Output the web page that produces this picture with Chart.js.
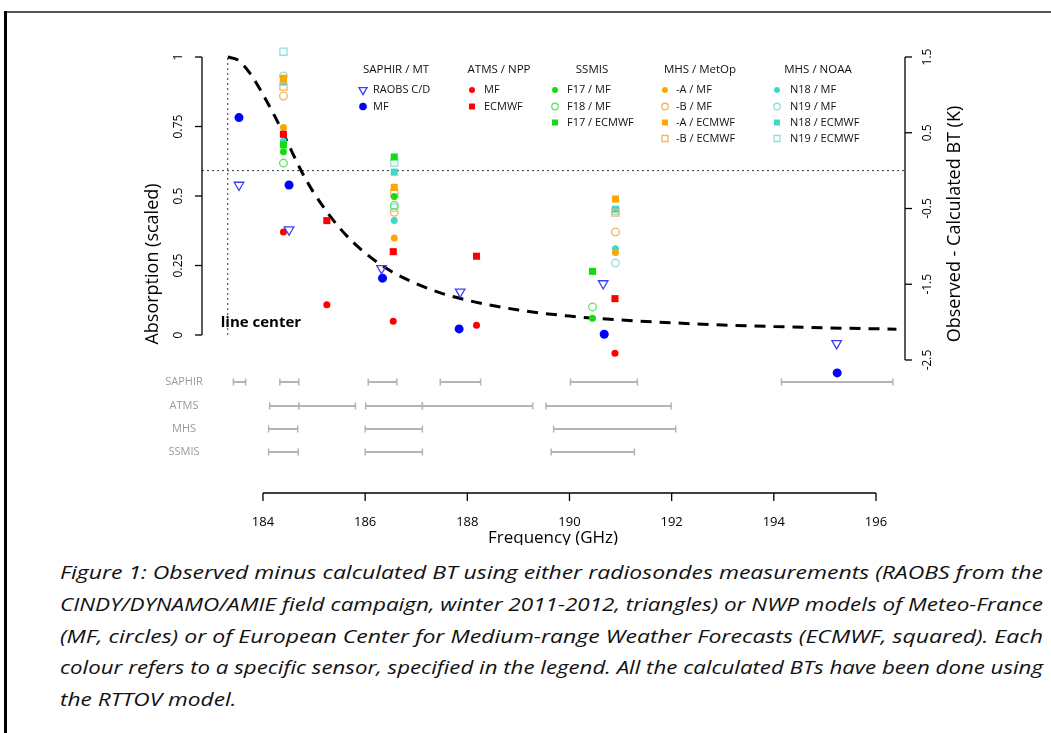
<!DOCTYPE html>
<html>
<head>
<meta charset="utf-8">
<script src="https://cdn.jsdelivr.net/npm/chart.js@4.4.1/dist/chart.umd.min.js"></script>
<style>
  html, body { margin: 0; padding: 0; background: #fff; }
  body { width: 1051px; height: 733px; position: relative; overflow: hidden; }
  #frameL { position: absolute; left: 4px; top: 11px; width: 3px; height: 722px; background: #000; }
  #frameT { position: absolute; left: 4px; top: 11px; width: 1047px; height: 2px; background: #555; }
  #chart { position: absolute; left: 0; top: 0; }
  #caption { position: absolute; left: 60px; top: 557px; font-family: 'Open Sans', sans-serif; font-style: italic; font-size: 19px; color: #111; }
  #caption div { white-space: nowrap; height: 31.75px; line-height: 31.75px; }
  #caption span { display: inline-block; transform-origin: 0 50%; }
</style>
</head>
<body>
<div id="frameT"></div>
<div id="frameL"></div>
<canvas id="chart" width="1051" height="545"></canvas>
<div id="caption">
  <div><span class="j">Figure 1: Observed minus calculated BT using either radiosondes measurements (RAOBS from the</span></div>
  <div><span class="j">CINDY/DYNAMO/AMIE field campaign, winter 2011-2012, triangles) or NWP models of Meteo-France</span></div>
  <div><span class="j">(MF, circles) or of European Center for Medium-range Weather Forecasts (ECMWF, squared). Each</span></div>
  <div><span class="j">colour refers to a specific sensor, specified in the legend. All the calculated BTs have been done using</span></div>
  <div><span>the RTTOV model.</span></div>
</div>
<script>
// axes
const xTicks = [184, 186, 188, 190, 192, 194, 196];
const absTicks = [0, 0.25, 0.5, 0.75, 1];
const absTickLabels = ['0', '0.25', '0.5', '0.75', '1'];
const btTicks = [1.5, 0.5, -0.5, -1.5, -2.5];
const btTickLabels = ['1.5', '0.5', '-0.5', '-1.5', '-2.5'];
const lineCenter = 183.31;

// absorption line shape (scaled)
const curveFreq = [183.31, 183.5, 183.75, 184.0, 184.25, 184.5, 184.75, 185.0, 185.5, 186.0, 186.5, 187.0, 187.5, 188.0, 189.0, 190.0, 191.0, 192.0, 193.0, 194.0, 195.0, 196.4];
const curveAbs = [1.0, 0.99, 0.94, 0.865, 0.78, 0.685, 0.59, 0.51, 0.385, 0.295, 0.23, 0.185, 0.15, 0.125, 0.09, 0.068, 0.054, 0.044, 0.036, 0.031, 0.026, 0.021];

// SAPHIR / MT
const raobsFreq = [183.53, 184.51, 186.32, 187.86, 190.66, 195.23];
const raobsBT = [-0.19, -0.78, -1.29, -1.60, -1.49, -2.28];
const saphirMfFreq = [183.53, 184.51, 186.34, 187.84, 190.68, 195.24];
const saphirMfBT = [0.70, -0.19, -1.42, -2.09, -2.16, -2.67];

// ATMS / NPP
const atmsFreq = [184.40, 185.25, 186.55, 188.18, 190.89];
const atmsMfBT = [-0.81, -1.77, -1.99, -2.04, -2.41];
const atmsEcBT = [0.48, -0.66, -1.07, -1.13, -1.69];

// SSMIS
const ssmisFreq = [184.40, 186.57, 190.45];
const f17MfBT = [0.25, -0.34, -1.95];
const f18MfBT = [0.10, -0.46, -1.80];
const f17EcBT = [0.34, 0.18, -1.33];

// MHS
const mhsFreq = [184.40, 186.57, 190.90];
const metopAMfBT = [0.57, -0.89, -1.08];
const metopBMfBT = [0.985, -0.55, -0.81];
const metopAEcBT = [1.22, -0.22, -0.375];
const metopBEcBT = [1.11, -0.30, -0.555];
const n18MfBT = [0.39, -0.66, -1.03];
const n19MfBT = [1.25, -0.49, -1.22];
const n18EcBT = [1.17, -0.02, -0.51];
const n19EcBT = [1.57, 0.105, -0.53];

// channel pass-bands (GHz)
const bandNames = ['SAPHIR', 'ATMS', 'MHS', 'SSMIS'];
const saphirBands = [[183.42, 183.66], [184.33, 184.70], [186.06, 186.62], [187.47, 188.26], [190.02, 191.33], [194.15, 196.33]];
const atmsBands = [[184.13, 184.70], [184.70, 185.81], [186.01, 187.12], [187.12, 189.28], [189.54, 191.99]];
const mhsBands = [[184.11, 184.68], [186.00, 187.12], [189.69, 192.08]];
const ssmisBands = [[184.11, 184.69], [186.00, 187.12], [189.64, 191.27]];

const legendGroups = ['SAPHIR / MT', 'ATMS / NPP', 'SSMIS', 'MHS / MetOp', 'MHS / NOAA'];

// layout
const xMin = 182.806, xMax = 196.568;
const bandLevel = [-0.169, -0.255, -0.338, -0.421];
const FONT = "'Open Sans', sans-serif";
const ORANGE = '#ffa500', ORANGE_L = '#f6b25c', TURQ = '#40d8cc', TURQ_L = '#8fe0da', GREEN = '#11dd11';

const series = [
  { label: 'RAOBS C/D', group: 0, freq: raobsFreq, bt: raobsBT, style: 'triangle', color: '#3c3cff', open: true, r: 5.5, rot: 180 },
  { label: 'MF', group: 0, freq: saphirMfFreq, bt: saphirMfBT, style: 'circle', color: '#0000ff', r: 4.5 },
  { label: 'MF', group: 1, freq: atmsFreq, bt: atmsMfBT, style: 'circle', color: '#ff0000', r: 3.5 },
  { label: 'ECMWF', group: 1, freq: atmsFreq, bt: atmsEcBT, style: 'rect', color: '#ff0000', r: 5 },
  { label: 'F17 / MF', group: 2, freq: ssmisFreq, bt: f17MfBT, style: 'circle', color: GREEN, r: 3.5 },
  { label: 'F18 / MF', group: 2, freq: ssmisFreq, bt: f18MfBT, style: 'circle', color: '#66e066', open: true, r: 3.8 },
  { label: 'F17 / ECMWF', group: 2, freq: ssmisFreq, bt: f17EcBT, style: 'rect', color: GREEN, r: 5 },
  { label: '-A / MF', group: 3, freq: mhsFreq, bt: metopAMfBT, style: 'circle', color: ORANGE, r: 3.5 },
  { label: '-B / MF', group: 3, freq: mhsFreq, bt: metopBMfBT, style: 'circle', color: ORANGE_L, open: true, r: 3.8 },
  { label: '-A / ECMWF', group: 3, freq: mhsFreq, bt: metopAEcBT, style: 'rect', color: ORANGE, r: 5 },
  { label: '-B / ECMWF', group: 3, freq: mhsFreq, bt: metopBEcBT, style: 'rect', color: ORANGE_L, open: true, r: 5 },
  { label: 'N18 / MF', group: 4, freq: mhsFreq, bt: n18MfBT, style: 'circle', color: TURQ, r: 3.5 },
  { label: 'N19 / MF', group: 4, freq: mhsFreq, bt: n19MfBT, style: 'circle', color: TURQ_L, open: true, r: 3.8 },
  { label: 'N18 / ECMWF', group: 4, freq: mhsFreq, bt: n18EcBT, style: 'rect', color: TURQ, r: 5 },
  { label: 'N19 / ECMWF', group: 4, freq: mhsFreq, bt: n19EcBT, style: 'rect', color: TURQ_L, open: true, r: 5 }
];

const pointSets = series.map(s => ({
  type: 'scatter',
  label: s.label,
  yAxisID: 'yR',
  data: s.freq.map((f, i) => ({ x: f, y: s.bt[i] })),
  pointStyle: s.style,
  pointRadius: s.r,
  rotation: s.rot || 0,
  backgroundColor: s.open ? 'rgba(0,0,0,0)' : s.color,
  borderColor: s.color,
  borderWidth: s.open ? 1.3 : 0
}));

const bandSets = [saphirBands, atmsBands, mhsBands, ssmisBands].map((bands, i) => ({
  type: 'line',
  yAxisID: 'yA',
  data: bands.flatMap(([a, b]) => [{ x: a, y: bandLevel[i] }, { x: b, y: bandLevel[i] }, { x: b, y: null }]),
  borderColor: '#b4b4b4',
  borderWidth: 2,
  spanGaps: false,
  pointStyle: 'line',
  pointRotation: 90,
  pointRadius: 3.5,
  pointBorderColor: '#b4b4b4',
  pointBorderWidth: 1.5
}));

const curveSet = {
  type: 'line',
  yAxisID: 'yA',
  data: curveFreq.map((f, i) => ({ x: f, y: curveAbs[i] })),
  borderColor: '#000',
  borderWidth: 3,
  borderDash: [11, 8],
  pointRadius: 0,
  cubicInterpolationMode: 'monotone'
};

const centerSet = {
  type: 'line',
  yAxisID: 'yA',
  data: [{ x: lineCenter, y: 0 }, { x: lineCenter, y: 1 }],
  borderColor: '#333',
  borderWidth: 1,
  borderDash: [2, 3],
  pointRadius: 0
};

const zeroSet = {
  type: 'line',
  yAxisID: 'yR',
  data: [{ x: xMin, y: 0 }, { x: xMax, y: 0 }],
  borderColor: '#333',
  borderWidth: 1,
  borderDash: [2, 3],
  pointRadius: 0
};

function vText(ctx, str, x, y, font) {
  ctx.save();
  ctx.translate(x, y);
  ctx.rotate(-Math.PI / 2);
  ctx.font = font;
  ctx.textAlign = 'center';
  ctx.textBaseline = 'middle';
  ctx.fillText(str, 0, 0);
  ctx.restore();
}

function seg(ctx, x1, y1, x2, y2) {
  ctx.beginPath();
  ctx.moveTo(x1, y1);
  ctx.lineTo(x2, y2);
  ctx.stroke();
}

// R-style axes, titles, band labels and legend
const decor = {
  id: 'decor',
  afterDraw(chart) {
    const { ctx, chartArea } = chart;
    const { x, yA, yR } = chart.scales;
    ctx.save();
    ctx.strokeStyle = '#000';
    ctx.fillStyle = '#000';
    ctx.lineWidth = 1.3;

    // left axis
    const xl = chartArea.left;
    seg(ctx, xl, yA.getPixelForValue(1), xl, yA.getPixelForValue(0));
    absTicks.forEach((v, i) => {
      const py = yA.getPixelForValue(v);
      seg(ctx, xl - 7, py, xl, py);
      vText(ctx, absTickLabels[i], xl - 23, py, '12px ' + FONT);
    });
    vText(ctx, 'Absorption (scaled)', 153, 264, '18px ' + FONT);

    // right axis
    const xr = chartArea.right;
    seg(ctx, xr, yR.getPixelForValue(1.5), xr, yR.getPixelForValue(-2.5));
    btTicks.forEach((v, i) => {
      const py = yR.getPixelForValue(v);
      seg(ctx, xr, py, xr + 7, py);
      vText(ctx, btTickLabels[i], xr + 23, py, '12px ' + FONT);
    });
    vText(ctx, 'Observed - Calculated BT (K)', 955, 224, '18px ' + FONT);

    // bottom axis
    const yb = 493;
    seg(ctx, x.getPixelForValue(xTicks[0]), yb, x.getPixelForValue(xTicks[xTicks.length - 1]), yb);
    ctx.font = '13px ' + FONT;
    ctx.textAlign = 'center';
    ctx.textBaseline = 'middle';
    xTicks.forEach(v => {
      const px = x.getPixelForValue(v);
      seg(ctx, px, yb, px, yb + 8);
      ctx.fillText(String(v), px, 522);
    });
    ctx.font = '17px ' + FONT;
    ctx.fillText('Frequency (GHz)', 553, 538);

    // line center label
    ctx.font = 'bold 15px ' + FONT;
    ctx.textAlign = 'left';
    ctx.fillText('line center', x.getPixelForValue(lineCenter) - 7, yA.getPixelForValue(0) - 12);

    // band row names
    ctx.font = '11px ' + FONT;
    ctx.fillStyle = '#9a9a9a';
    ctx.textAlign = 'center';
    bandNames.forEach((n, i) => ctx.fillText(n, 184, yA.getPixelForValue(bandLevel[i])));

    // legend
    const headX = [396, 499, 592, 700, 818];
    const markX = [363, 472, 555, 665, 777];
    const textX = [373, 484, 567, 676, 790];
    const rowY = [90, 106.5, 122.5, 138.5];
    ctx.fillStyle = '#111';
    ctx.font = '11.5px ' + FONT;
    legendGroups.forEach((g, i) => ctx.fillText(g, headX[i], 70));
    const rowCount = legendGroups.map(() => 0);
    series.forEach(s => {
      const r = rowCount[s.group]++;
      const py = rowY[r];
      ctx.fillStyle = s.open ? 'rgba(0,0,0,0)' : s.color;
      ctx.strokeStyle = s.color;
      ctx.lineWidth = 1.3;
      Chart.helpers.drawPoint(ctx, {
        pointStyle: s.style,
        radius: s.r * 0.85,
        rotation: s.rot || 0,
        borderWidth: s.open ? 1.3 : 0
      }, markX[s.group], py);
      ctx.fillStyle = '#111';
      ctx.font = '11px ' + FONT;
      ctx.textAlign = 'left';
      ctx.fillText(s.label, textX[s.group], py);
    });
    ctx.restore();
  }
};

new Chart(document.getElementById('chart'), {
  type: 'scatter',
  data: { datasets: [...pointSets, curveSet, centerSet, zeroSet, ...bandSets] },
  options: {
    responsive: false,
    animation: false,
    devicePixelRatio: 1,
    layout: { padding: { left: 202, right: 146, top: 40, bottom: 46 } },
    plugins: { legend: { display: false }, tooltip: { enabled: false } },
    scales: {
      x: { type: 'linear', min: xMin, max: xMax, display: false },
      y: { display: false },
      yA: { type: 'linear', position: 'left', min: -0.5899, max: 1.0612, display: false },
      yR: { type: 'linear', position: 'right', min: -4.335, max: 1.7244, display: false }
    }
  },
  plugins: [decor]
});

// stretch caption lines to the justified width of the original
const spans = document.querySelectorAll('#caption span');
const factors = [];
spans.forEach(sp => {
  if (sp.classList.contains('j')) {
    const f = 983 / sp.getBoundingClientRect().width;
    factors.push(f);
    sp.style.transform = 'scaleX(' + f + ')';
  }
});
const meanF = factors.reduce((a, b) => a + b, 0) / factors.length;
spans.forEach(sp => { if (!sp.classList.contains('j')) sp.style.transform = 'scaleX(' + meanF + ')'; });
</script>
</body>
</html>
